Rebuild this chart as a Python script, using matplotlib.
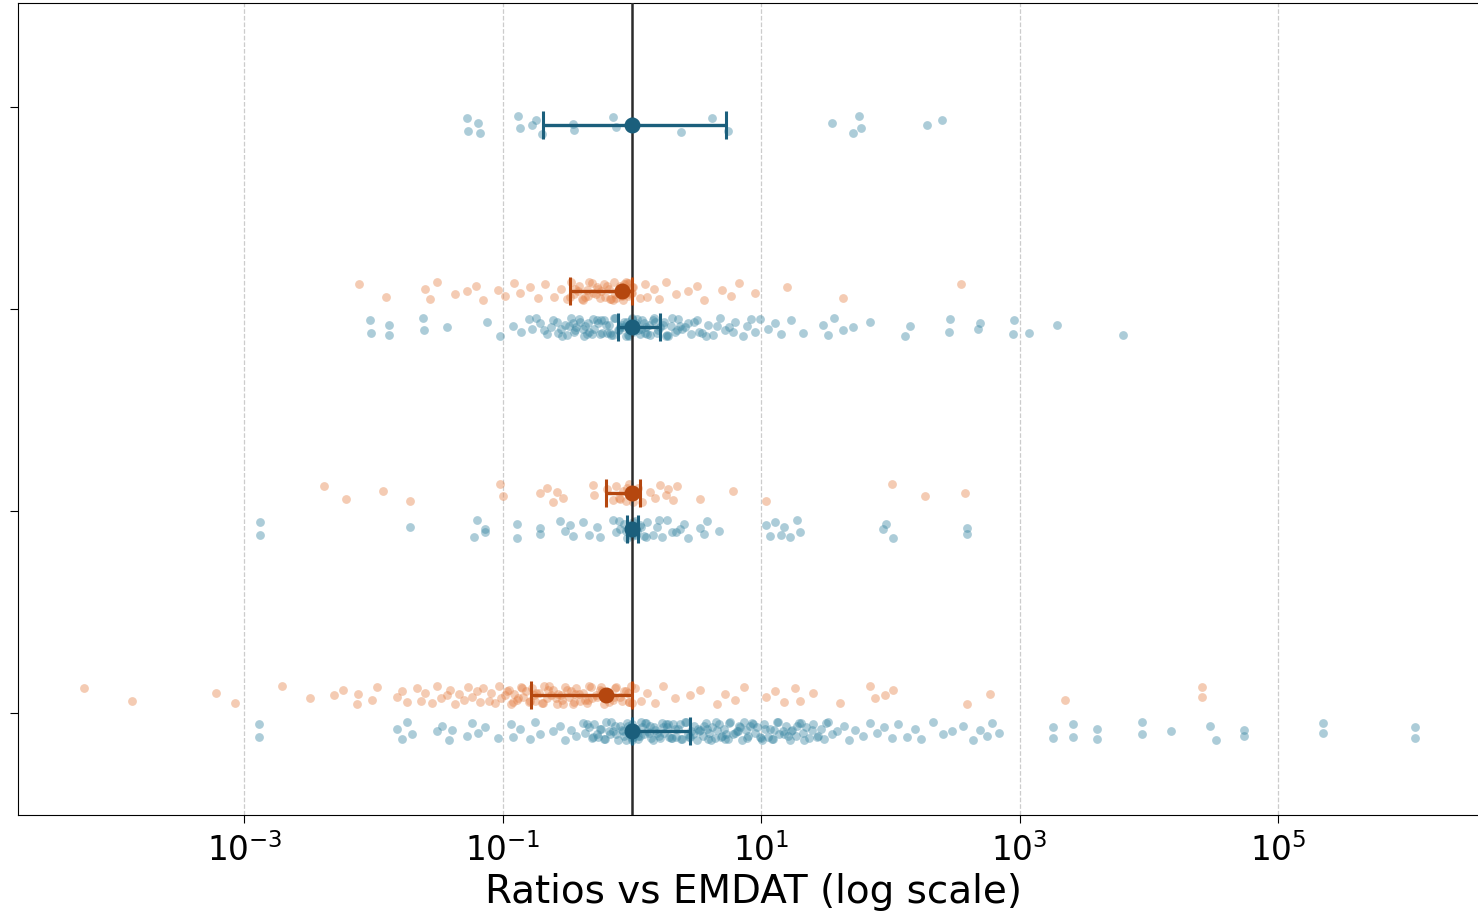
import numpy as np
import matplotlib.pyplot as plt
from matplotlib.ticker import NullLocator

# log10 of the ratio vs EMDAT, one list per group and source
teal_0 = [-1.28, -1.27, -1.19, -1.18, -0.88, -0.87, -0.77, -0.74, -0.70, -0.46, -0.45,
          -0.15, -0.12, 0.00, 0.38, 0.62, 0.74, 1.55, 1.71, 1.76, 1.77, 2.28, 2.40]

orange_1 = [-2.11, -1.90, -1.60, -1.56, -1.51, -1.37, -1.28, -1.21, -1.15, -1.04, -0.98,
            -0.91, -0.87, -0.79, -0.73, -0.67, -0.60, -0.55, -0.50, -0.47, -0.45, -0.42,
            -0.41, -0.38, -0.35, -0.34, -0.31, -0.30, -0.27, -0.25, -0.22, -0.21, -0.18,
            -0.17, -0.14, -0.13, -0.10, -0.09, -0.07, -0.05, -0.03, -0.02, 0.00, 0.01,
            0.06, 0.10, 0.12, 0.17, 0.21, 0.26, 0.34, 0.43, 0.50, 0.56, 0.70, 0.77, 0.83,
            0.95, 1.20, 1.63, 2.55,
            -0.48, -0.44, -0.39, -0.33, -0.28, -0.24, -0.19, -0.15, -0.11, -0.08, -0.04,
            -0.01, 0.00, -0.12, -0.06, -0.36, -0.26, -0.16, -0.05, -0.02]
teal_1 = [-2.03, -2.02, -1.88, -1.88, -1.62, -1.61, -1.43, -1.12, -1.02, -0.92, -0.86,
          -0.80, -0.77, -0.71, -0.66, -0.61, -0.57, -0.52, -0.50, -0.47, -0.44, -0.43,
          -0.40, -0.37, -0.36, -0.33, -0.30, -0.29, -0.26, -0.25, -0.22, -0.19, -0.18,
          -0.15, -0.13, -0.11, -0.09, -0.06, -0.05, -0.03, -0.01, 0.00, 0.02, 0.03, 0.06,
          0.08, 0.10, 0.13, 0.14, 0.17, 0.20, 0.22, 0.25, 0.28, 0.30, 0.33, 0.36, 0.39,
          0.43, 0.46, 0.50, 0.54, 0.59, 0.63, 0.68, 0.72, 0.75, 0.80, 0.86, 0.89, 0.95,
          0.99, 1.05, 1.11, 1.15, 1.23, 1.32, 1.48, 1.52, 1.56, 1.63, 1.71, 1.84, 2.11,
          2.15, 2.45, 2.46, 2.68, 2.69, 2.95, 2.96, 3.07, 3.29, 3.80,
          -0.74, -0.68, -0.63, -0.58, -0.54, -0.49, -0.45, -0.41, -0.38, -0.34, -0.31,
          -0.27, -0.23, -0.20, -0.16, -0.14, -0.10, -0.07, -0.04, -0.02, 0.00, 0.01,
          0.04, 0.07, 0.09, 0.12, 0.16, 0.19, 0.24, 0.27, 0.31, 0.35, 0.41, 0.48,
          0.57, 0.66, 0.78, 0.92, -0.55, -0.46, -0.35, -0.24, -0.17, -0.08, -0.03,
          0.00, 0.05, 0.11, 0.18, 0.26, 0.37, 0.52]

orange_2 = [-2.38, -2.21, -1.93, -1.72, -1.02, -1.00, -0.71, -0.66, -0.61, -0.58, -0.53,
            -0.30, -0.29, -0.19, -0.15, -0.12, -0.09, -0.07, -0.05, -0.02, 0.00, 0.02,
            0.05, 0.08, 0.14, 0.18, 0.22, 0.26, 0.28, 0.32, 0.35, 0.53, 0.78, 1.04, 2.01,
            2.27, 2.58, -0.04, 0.01, 0.03, -0.10]
teal_2 = [-2.88, -2.88, -1.72, -1.22, -1.20, -1.14, -1.14, -0.89, -0.89, -0.71, -0.71,
          -0.56, -0.52, -0.48, -0.46, -0.38, -0.33, -0.27, -0.25, -0.15, -0.12, -0.09,
          -0.06, -0.04, -0.02, 0.00, 0.02, 0.04, 0.06, 0.09, 0.12, 0.16, 0.19, 0.23, 0.27,
          0.31, 0.37, 0.40, 0.43, 0.53, 0.56, 0.58, 0.67, 1.04, 1.07, 1.11, 1.15, 1.18,
          1.22, 1.28, 1.30, 1.94, 1.97, 2.02, 2.59, 2.59,
          -0.10, -0.05, -0.01, 0.00, 0.01, 0.03, 0.07, 0.11, 0.21, 0.34]

orange_3 = [-4.24, -3.87, -3.22, -3.07, -2.71, -2.49, -2.31, -2.24, -2.13, -2.12, -2.01,
            -1.97, -1.82, -1.78, -1.74, -1.66, -1.63, -1.60, -1.55, -1.51, -1.48, -1.43,
            -1.41, -1.37, -1.34, -1.30, -1.27, -1.24, -1.20, -1.18, -1.15, -1.11, -1.09,
            -1.06, -1.03, -1.01, -0.98, -0.95, -0.94, -0.91, -0.89, -0.86, -0.84, -0.82,
            -0.80, -0.77, -0.75, -0.72, -0.70, -0.68, -0.66, -0.63, -0.61, -0.58, -0.57,
            -0.54, -0.52, -0.49, -0.47, -0.45, -0.43, -0.40, -0.38, -0.35, -0.33, -0.31,
            -0.28, -0.25, -0.22, -0.19, -0.15, -0.12, -0.09, -0.05, -0.02, 0.02, 0.07,
            0.12, 0.18, 0.24, 0.33, 0.45, 0.53, 0.66, 0.72, 0.80, 0.87, 1.04, 1.11, 1.18,
            1.26, 1.30, 1.40, 1.61, 1.84, 1.88, 1.96, 2.02, 2.59, 2.77, 3.35, 4.41, 4.41,
            -0.97, -0.92, -0.85, -0.79, -0.74, -0.69, -0.64, -0.59, -0.55, -0.50, -0.46,
            -0.41, -0.36, -0.32, -0.27, -0.23, -0.18, -0.13, -0.08, -0.03, 0.00, -0.01,
            -0.88, -0.76, -0.65, -0.53, -0.44, -0.34, -0.24, -0.14, -0.06, -0.02]
teal_3 = [-2.89, -2.89, -1.82, -1.78, -1.74, -1.70, -1.51, -1.47, -1.42, -1.39, -1.28,
          -1.24, -1.19, -1.14, -1.04, -0.94, -0.92, -0.87, -0.79, -0.75, -0.71, -0.61,
          -0.56, -0.52, -0.47, -0.43, -0.38, -0.36, -0.33, -0.31, -0.29, -0.26, -0.24,
          -0.22, -0.20, -0.17, -0.15, -0.13, -0.11, -0.08, -0.06, -0.04, -0.02, -0.01,
          0.00, 0.00, 0.01, 0.03, 0.05, 0.07, 0.09, 0.12, 0.14, 0.16, 0.18, 0.21, 0.23,
          0.25, 0.27, 0.30, 0.32, 0.34, 0.36, 0.39, 0.41, 0.43, 0.46, 0.48, 0.50, 0.53,
          0.55, 0.57, 0.60, 0.62, 0.64, 0.67, 0.69, 0.71, 0.74, 0.76, 0.78, 0.81, 0.83,
          0.85, 0.88, 0.90, 0.93, 0.95, 0.97, 1.00, 1.02, 1.05, 1.07, 1.09, 1.12, 1.14,
          1.17, 1.19, 1.22, 1.24, 1.27, 1.29, 1.32, 1.35, 1.37, 1.40, 1.43, 1.46, 1.49,
          1.52, 1.55, 1.59, 1.64, 1.68, 1.73, 1.79, 1.84, 1.90, 1.95, 2.01, 2.06, 2.13,
          2.19, 2.24, 2.33, 2.41, 2.48, 2.56, 2.64, 2.69, 2.75, 2.79, 2.84, 3.26, 3.26,
          3.41, 3.41, 3.60, 3.60, 3.95, 3.95, 4.17, 4.47, 4.52, 4.74, 4.74, 5.35, 5.35,
          6.06, 6.06,
          -0.35, -0.30, -0.25, -0.21, -0.16, -0.12, -0.07, -0.03, 0.00, 0.02, 0.06, 0.10,
          0.13, 0.17, 0.22, 0.26, 0.29, 0.33, 0.38, 0.42, 0.47, 0.52, 0.56, 0.61, 0.66,
          0.70, 0.75, 0.80, 0.84, 0.89, 0.94, 0.99, 1.03, 1.08, 1.13, 1.18, 1.23, 1.28,
          1.33, 1.39, 1.44, 1.50, 0.04, 0.08, 0.15, 0.28, 0.44, 0.58, 0.72, 0.87,
          -0.27, -0.18, -0.09, -0.05, 0.00, 0.05, 0.11, 0.19, 0.24, 0.31, 0.37, 0.45,
          0.51, 0.59, 0.65, 0.73, 0.82, 0.91, 1.01, 1.10, 1.21, 1.31]

# point estimates and interval ends (ratios), one value per group 0..3
teal_est = [1.0, 1.0, 1.0, 1.0]
teal_lo = [0.204, 0.78, 0.91, 1.0]
teal_hi = [5.3, 1.65, 1.11, 2.81]
orange_est = [np.nan, 0.84, 1.0, 0.63]
orange_lo = [np.nan, 0.33, 0.63, 0.165]
orange_hi = [np.nan, 1.0, 1.15, 1.0]

teal_pts = [teal_0, teal_1, teal_2, teal_3]
orange_pts = [[], orange_1, orange_2, orange_3]

c_teal = "#3b87a3"
c_orange = "#e5834a"
c_teal_d = "#1b5f7c"
c_orange_d = "#b5470f"

dodge = 0.09
jit = np.array([-0.035, 0.03, -0.01, 0.04, -0.045, 0.015, 0.0, -0.025, 0.045,
                -0.005, 0.025, -0.04, 0.01, -0.02, 0.035])

fig = plt.figure(figsize=(14.78, 9.23), dpi=100)
ax = fig.add_axes([18/1478, 108/923, 1472/1478, 812/923])

for k in range(4):
    for vals, sgn, col in [(orange_pts[k], -1, c_orange), (teal_pts[k], 1, c_teal)]:
        if len(vals) == 0:
            continue
        v = 10.0 ** np.array(vals)
        yy = k + sgn*dodge + np.resize(jit, len(v))
        ax.scatter(v, yy, s=40, color=col, alpha=0.42, linewidths=0, zorder=2)

ax.axvline(1.0, color="#2b2b2b", lw=1.8, zorder=3)

ypos = np.arange(4)
for est, lo, hi, sgn, col in [(orange_est, orange_lo, orange_hi, -1, c_orange_d),
                              (teal_est, teal_lo, teal_hi, 1, c_teal_d)]:
    est = np.array(est); lo = np.array(lo); hi = np.array(hi)
    ok = ~np.isnan(est)
    ax.errorbar(est[ok], ypos[ok] + sgn*dodge,
                xerr=[est[ok]-lo[ok], hi[ok]-est[ok]],
                fmt="o", color=col, ms=10.5, elinewidth=2.4, capsize=10,
                capthick=2.2, zorder=4)

ax.set_xscale("log")
ax.set_xlim(10**-4.752, 10**6.641)
ax.set_ylim(3.505, -0.515)
ax.set_xticks([1e-3, 1e-1, 1e1, 1e3, 1e5])
ax.xaxis.set_minor_locator(NullLocator())
ax.set_yticks(ypos)
ax.set_yticklabels([])
ax.grid(axis="x", ls="--", color="#cccccc", lw=0.9)
ax.set_axisbelow(True)
ax.tick_params(axis="x", labelsize=23.5, length=6, pad=7)
ax.tick_params(axis="y", length=6)
ax.set_xlabel("Ratios vs EMDAT (log scale)", fontsize=28, labelpad=4)

fig.savefig("out.png", dpi=100)
